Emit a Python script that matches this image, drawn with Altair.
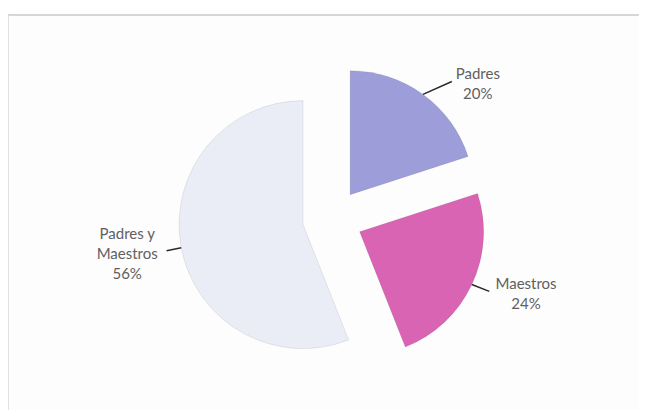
import altair as alt
import pandas as pd

# Data
categories = ["Padres", "Maestros", "Padres y Maestros"]
values = [20, 24, 56]
labels = ["Padres\n20%", "Maestros\n24%", "Padres y\nMaestros\n56%"]
order = [1, 2, 3]
colors = ["#9d9dd9", "#d964b3", "#eaedf6"]

df = pd.DataFrame({"cat": categories, "value": values, "label": labels, "ord": order})

# style / geometry constants
W, H = 631, 395
CX, CY = 324.5, 204.0      # pie centre (view coords)
EXPLODE = 30               # explode distance
R = 124                    # pie radius
LA, LB, LRY = 50, 88, 140  # leader-line end: horizontal a + b|sin|, vertical ry
TA, TB, TRY = 56, 122, 140 # label centre
LH = 20                    # label line height
TDY = 3                    # label vertical nudge

base = alt.Chart(df).transform_window(
    cum="sum(value)", sort=[alt.SortField("ord")], frame=[None, 0]
).transform_joinaggregate(
    total="sum(value)"
).transform_calculate(
    mid="2*PI*(datum.cum - datum.value/2)/datum.total",
    nl="length(split(datum.label, '\\n'))",
).transform_calculate(
    px=f"{CX} + {EXPLODE}*sin(datum.mid)",
    py=f"{CY} - {EXPLODE}*cos(datum.mid)",
    sg="sin(datum.mid) < 0 ? -1 : 1",
).transform_calculate(
    ex=f"datum.px + {R}*sin(datum.mid)",
    ey=f"datum.py - {R}*cos(datum.mid)",
    lx=f"datum.px + datum.sg*({LA} + {LB}*abs(sin(datum.mid)))",
    ly=f"datum.py - {LRY}*cos(datum.mid)",
    tx=f"datum.px + datum.sg*({TA} + {TB}*abs(sin(datum.mid)))",
    ty=f"datum.py - {TRY}*cos(datum.mid) - (datum.nl - 1)*{LH}/2 + {TDY}",
)

arcs = base.mark_arc(radius=R, stroke="#000000", strokeOpacity=0.08, strokeWidth=1).encode(
    theta=alt.Theta("value:Q", stack=True),
    order=alt.Order("ord:O"),
    x=alt.X("px:Q", scale=None),
    y=alt.Y("py:Q", scale=None),
    color=alt.Color("cat:N", scale=alt.Scale(domain=categories, range=colors), legend=None),
)

lines = base.mark_rule(color="#2a2a2a", strokeWidth=1.5).encode(
    x=alt.X("ex:Q", scale=None),
    y=alt.Y("ey:Q", scale=None),
    x2="lx:Q",
    y2="ly:Q",
)

texts = base.mark_text(
    font="Lato", fontSize=15, color="#606060", lineBreak="\n", lineHeight=LH,
    align="center", baseline="middle",
).encode(
    x=alt.X("tx:Q", scale=None),
    y=alt.Y("ty:Q", scale=None),
    text="label:N",
)

# faint frame (top and left edges visible in the reference)
frame_top = alt.Chart(df).mark_rule(color="#d6d6d6", strokeWidth=1.5).encode(
    x=alt.value(0), x2=alt.value(W), y=alt.value(0)
)
frame_left = alt.Chart(df).mark_rule(color="#e0e0e0", strokeWidth=1.5).encode(
    x=alt.value(0), y=alt.value(0), y2=alt.value(H)
)

chart = alt.layer(frame_top, frame_left, arcs, lines, texts).properties(
    width=W, height=H,
    padding={"left": 0, "top": 7, "right": 0, "bottom": 0},
    autosize=alt.AutoSizeParams(type="none"),
).configure_view(stroke=None, fill="#fdfdfd")

chart.save("out.html", embed_options={"renderer": "svg", "actions": False})
